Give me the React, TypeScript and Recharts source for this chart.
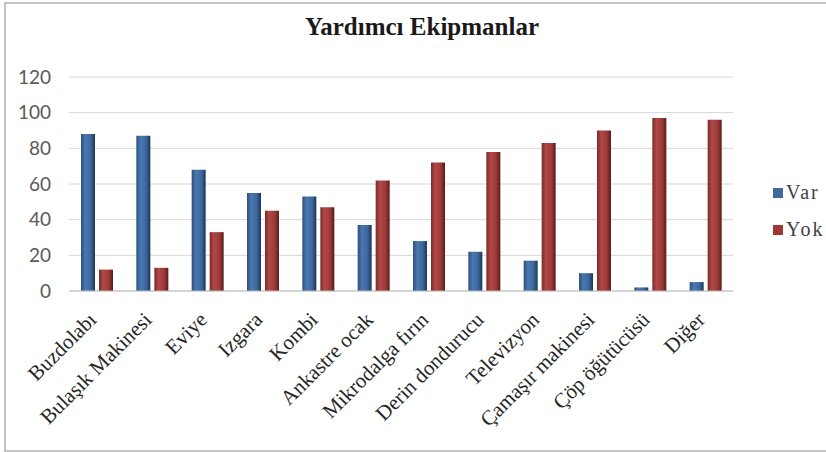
import React from 'react';
import { BarChart, Bar, XAxis, YAxis, CartesianGrid } from 'recharts';

// Kategoriler ve seriler (% değerler)
const categories = [
  'Buzdolabı',
  'Bulaşık Makinesi',
  'Eviye',
  'Izgara',
  'Kombi',
  'Ankastre ocak',
  'Mikrodalga fırın',
  'Derin dondurucu',
  'Televizyon',
  'Çamaşır makinesi',
  'Çöp öğütücüsü',
  'Diğer',
];
const varValues = [88, 87, 68, 55, 53, 37, 28, 22, 17, 10, 2, 5];
const yokValues = [12, 13, 33, 45, 47, 62, 72, 78, 83, 90, 97, 96];
const yTicks = [0, 20, 40, 60, 80, 100, 120];

const data = categories.map((name, i) => ({ name, Var: varValues[i], Yok: yokValues[i] }));

const serif = '"Liberation Serif", "DejaVu Serif", serif';

const XTick = (props: any) => {
  const { x, y, payload } = props;
  const tx = x + 1;
  const ty = y + 30;
  return (
    <text
      x={tx}
      y={ty}
      transform={`rotate(-45 ${tx} ${ty})`}
      textAnchor="end"
      fontFamily={serif}
      fontSize={21}
      fill="#262626"
    >
      {payload.value}
    </text>
  );
};

const LegendBox = () => (
  <div style={{ fontFamily: serif, fontSize: 20, color: '#404040', lineHeight: '37px' }}>
    {[
      { label: 'Var', color: '#3f6aa0' },
      { label: 'Yok', color: '#9c3a38' },
    ].map((it) => (
      <div key={it.label} style={{ display: 'flex', alignItems: 'center', whiteSpace: 'nowrap' }}>
        <span style={{ width: 10, height: 10, background: it.color, marginRight: 3, display: 'inline-block' }} />
        <span style={{ letterSpacing: 2 }}>{it.label}</span>
      </div>
    ))}
  </div>
);

export default function App() {
  return (
    <div style={{ position: 'absolute', left: 0, top: 0, width: 826, height: 452, background: '#fff', overflow: 'hidden' }}>
      <div
        style={{
          position: 'absolute',
          left: 4,
          top: 2,
          width: 900,
          height: 446,
          border: '2px solid #c4c4c4',
        }}
      />
      <div
        style={{
          position: 'absolute',
          left: 0,
          top: 13,
          width: 844,
          textAlign: 'center',
          fontFamily: serif,
          fontWeight: 'bold',
          fontSize: 25,
          color: '#1a1a1a',
        }}
      >
        Yardımcı Ekipmanlar
      </div>
      <div style={{ position: 'absolute', left: 0, top: 0 }}>
        <BarChart
          width={826}
          height={452}
          data={data}
          margin={{ top: 77, right: 93, bottom: 0, left: 1 }}
          barSize={14}
          barGap={4}
        >
          <defs>
            <linearGradient id="gVar" x1="0" y1="0" x2="1" y2="0">
              <stop offset="0%" stopColor="#2c4f7c" />
              <stop offset="30%" stopColor="#4a78b0" />
              <stop offset="70%" stopColor="#3c679c" />
              <stop offset="100%" stopColor="#1c3457" />
            </linearGradient>
            <linearGradient id="gYok" x1="0" y1="0" x2="1" y2="0">
              <stop offset="0%" stopColor="#7a2a29" />
              <stop offset="30%" stopColor="#b04846" />
              <stop offset="70%" stopColor="#9c3a38" />
              <stop offset="100%" stopColor="#5a1a19" />
            </linearGradient>
          </defs>
          <CartesianGrid vertical={false} stroke="#d6d6d6" />
          <XAxis
            dataKey="name"
            height={161}
            interval={0}
            tickLine={false}
            tickSize={0}
            tickMargin={0}
            axisLine={{ stroke: '#bfbfbf' }}
            tick={<XTick />}
          />
          <YAxis
            width={68}
            domain={[0, 120]}
            ticks={yTicks}
            interval={0}
            axisLine={false}
            tickLine={false}
            tickSize={0}
            tickMargin={18}
            tick={{ fontFamily: 'Lato, "Open Sans", sans-serif', fontSize: 19, fill: '#595959' }}
          />
          <Bar dataKey="Var" fill="url(#gVar)" isAnimationActive={false} />
          <Bar dataKey="Yok" fill="url(#gYok)" isAnimationActive={false} />
        </BarChart>
      </div>
      <div style={{ position: 'absolute', left: 773, top: 174 }}>
        <LegendBox />
      </div>
    </div>
  );
}
